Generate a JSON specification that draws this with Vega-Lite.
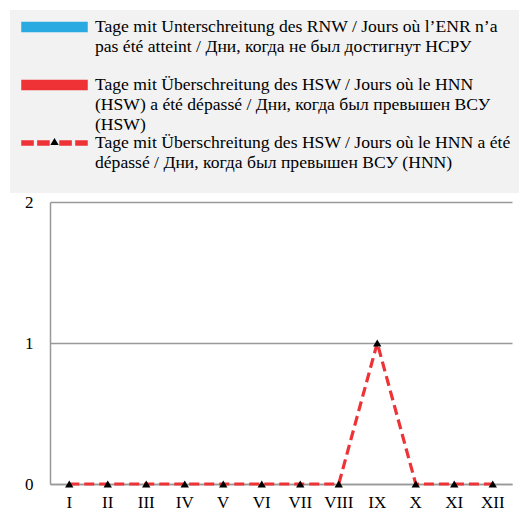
{
  "$schema": "https://vega.github.io/schema/vega-lite/v6.json",
  "width": 462,
  "height": 282,
  "autosize": {"type": "none"},
  "padding": {"left": 50, "top": 202, "right": 11, "bottom": 42},
  "background": "white",
  "config": {
    "view": {"stroke": null},
    "font": "Liberation Serif"
  },
  "data": {
    "values": [
      {"month": "I", "series": "a", "value": 0, "marker": "m"},
      {"month": "II", "series": "a", "value": 0, "marker": "m"},
      {"month": "III", "series": "a", "value": 0, "marker": "m"},
      {"month": "IV", "series": "a", "value": 0, "marker": "m"},
      {"month": "V", "series": "a", "value": 0, "marker": "m"},
      {"month": "VI", "series": "a", "value": 0, "marker": "m"},
      {"month": "VII", "series": "a", "value": 0, "marker": "m"},
      {"month": "VIII", "series": "a", "value": 0, "marker": "m"},
      {"month": "IX", "series": "a", "value": 0, "marker": "m"},
      {"month": "X", "series": "a", "value": 0, "marker": "m"},
      {"month": "XI", "series": "a", "value": 0, "marker": "m"},
      {"month": "XII", "series": "a", "value": 0, "marker": "m"},
      {"month": "I", "series": "b", "value": 0, "marker": "m"},
      {"month": "II", "series": "b", "value": 0, "marker": "m"},
      {"month": "III", "series": "b", "value": 0, "marker": "m"},
      {"month": "IV", "series": "b", "value": 0, "marker": "m"},
      {"month": "V", "series": "b", "value": 0, "marker": "m"},
      {"month": "VI", "series": "b", "value": 0, "marker": "m"},
      {"month": "VII", "series": "b", "value": 0, "marker": "m"},
      {"month": "VIII", "series": "b", "value": 0, "marker": "m"},
      {"month": "IX", "series": "b", "value": 0, "marker": "m"},
      {"month": "X", "series": "b", "value": 0, "marker": "m"},
      {"month": "XI", "series": "b", "value": 0, "marker": "m"},
      {"month": "XII", "series": "b", "value": 0, "marker": "m"},
      {"month": "I", "series": "c", "value": 0, "marker": "m"},
      {"month": "II", "series": "c", "value": 0, "marker": "m"},
      {"month": "III", "series": "c", "value": 0, "marker": "m"},
      {"month": "IV", "series": "c", "value": 0, "marker": "m"},
      {"month": "V", "series": "c", "value": 0, "marker": "m"},
      {"month": "VI", "series": "c", "value": 0, "marker": "m"},
      {"month": "VII", "series": "c", "value": 0, "marker": "m"},
      {"month": "VIII", "series": "c", "value": 0, "marker": "m"},
      {"month": "IX", "series": "c", "value": 1, "marker": "m"},
      {"month": "X", "series": "c", "value": 0, "marker": "m"},
      {"month": "XI", "series": "c", "value": 0, "marker": "m"},
      {"month": "XII", "series": "c", "value": 0, "marker": "m"}
    ]
  },
  "encoding": {
    "x": {
      "field": "month",
      "type": "nominal",
      "sort": ["I", "II", "III", "IV", "V", "VI", "VII", "VIII", "IX", "X", "XI", "XII"],
      "scale": {"paddingInner": 0, "paddingOuter": 0},
      "axis": {
        "title": null,
        "labelAngle": 0,
        "ticks": false,
        "domainColor": "#999999",
        "domainWidth": 1.5,
        "labelFont": "Liberation Serif",
        "labelFontSize": 17,
        "labelColor": "#000000",
        "labelPadding": 10
      }
    },
    "y": {
      "field": "value",
      "type": "quantitative",
      "scale": {"domain": [0, 2], "nice": false},
      "axis": {
        "title": null,
        "values": [0, 1, 2],
        "labelExpr": "datum.value",
        "ticks": false,
        "grid": true,
        "gridColor": "#999999",
        "gridWidth": 1.5,
        "domainColor": "#999999",
        "domainWidth": 1.5,
        "labelFont": "Liberation Serif",
        "labelFontSize": 17,
        "labelColor": "#000000",
        "labelPadding": 17
      }
    }
  },
  "layer": [
    {
      "transform": [{"filter": "datum.series != 'c'"}],
      "mark": {"type": "bar"},
      "encoding": {
        "xOffset": {"field": "series", "type": "nominal"},
        "color": {"field": "series", "type": "nominal",
          "scale": {"domain": ["a", "b", "c"], "range": ["#29abe2", "#ee3236", "#ee3236"]}}
      }
    },
    {
      "transform": [{"filter": "datum.series == 'c'"}],
      "mark": {"type": "line", "strokeDash": [10, 5], "strokeWidth": 3.2},
      "encoding": {
        "color": {
          "field": "series",
          "type": "nominal",
          "scale": {"domain": ["a", "b", "c"], "range": ["#29abe2", "#ee3236", "#ee3236"]},
          "legend": {
            "title": " ",
            "titleOrient": "bottom",
            "titleFontSize": 10,
            "titlePadding": 3,
            "orient": "none",
            "legendX": -40,
            "legendY": -192,
            "direction": "vertical",
            "fillColor": "#f2f2f2",
            "padding": 8,
            "rowPadding": 0,
            "symbolOffset": 3,
            "symbolStrokeWidth": 1.5,
            "symbolStrokeColor": {"expr": "datum.value == 'c' ? '#ee3236' : '#000000'"},
            "symbolFillColor": {"expr": "datum.value == 'a' ? '#29abe2' : '#ee3236'"},
            "labelOffset": 7,
            "labelLimit": 700,
            "labelFont": "Liberation Serif",
            "labelFontSize": 17.6,
            "labelColor": "#000000",
            "labelBaseline": "top",
            "labelExpr": "datum.value == 'a' ? ['Tage mit Unterschreitung des RNW / Jours où l’ENR n’a', 'pas été atteint / Дни, когда не был достигнут НСРУ', ' '] : datum.value == 'b' ? ['Tage mit Überschreitung des HSW / Jours où le HNN', '(HSW) a été dépassé / Дни, когда был превышен ВСУ', '(HSW)'] : ['Tage mit Überschreitung des HSW / Jours où le HNN a été', 'dépassé / Дни, когда был превышен ВСУ (HNN)']",
            "encode": {
              "labels": {"update": {"lineHeight": {"value": 20}, "y": {"value": 0}}},
              "symbols": {
                "update": {
                  "y": {"value": 0},
                  "size": {"value": 4225},
                  "strokeWidth": {"value": 1.5},
                  "strokeOpacity": {"value": 1},
                  "fillOpacity": {"value": 1},
                  "shape": {"signal": "datum.value == 'c' ? 'M-1,0.217H-0.66V0.337H-1Z M-0.51,0.217H-0.17V0.337H-0.51Z M0.17,0.217H0.51V0.337H0.17Z M0.66,0.217H1V0.337H0.66Z' : 'M-1,0.139H1V0.415H-1Z'"},
                  "opacity": {"value": 1}
                }
              }
            }
          }
        }
      }
    },
    {
      "transform": [{"filter": "datum.series == 'c'"}],
      "mark": {"type": "point", "filled": true, "size": 70, "opacity": 1, "color": "#000000"},
      "encoding": {
        "shape": {
          "field": "marker",
          "type": "nominal",
          "scale": {"range": ["triangle-up"]},
          "legend": {
            "title": null,
            "orient": "none",
            "legendX": 0,
            "legendY": -65,
            "padding": 0,
            "zindex": 5,
            "symbolSize": 70,
            "symbolFillColor": "#000000",
            "symbolStrokeColor": "#000000",
            "symbolStrokeWidth": 0,
            "labelExpr": "''",
            "labelFontSize": 1
          }
        }
      }
    }
  ]
}
